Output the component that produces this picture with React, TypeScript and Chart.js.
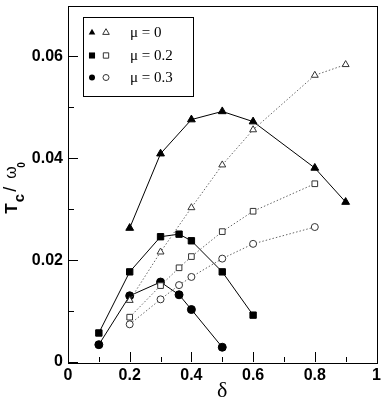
import React, { useEffect, useRef } from "react";
import { Chart, registerables } from "chart.js";

Chart.register(...registerables);

// δ values and Tc/ω0 values
const mu0Delta = [0.2, 0.3, 0.4, 0.5, 0.6, 0.8, 0.9];
const mu0Solid = [0.0263, 0.0409, 0.0476, 0.0492, 0.0472, 0.0381, 0.0314];
const mu0OpenDelta = [0.2, 0.3, 0.4, 0.5, 0.6, 0.8, 0.9];
const mu0Open = [0.0121, 0.0216, 0.0303, 0.0387, 0.0456, 0.0563, 0.0584];

const mu02Delta = [0.1, 0.2, 0.3, 0.36, 0.4, 0.5, 0.6];
const mu02Solid = [0.0057, 0.0177, 0.0246, 0.0251, 0.0238, 0.0177, 0.0092];
const mu02OpenDelta = [0.2, 0.3, 0.36, 0.4, 0.5, 0.6, 0.8];
const mu02Open = [0.0088, 0.015, 0.0185, 0.0207, 0.0256, 0.0296, 0.035];

const mu03Delta = [0.1, 0.2, 0.3, 0.36, 0.4, 0.5];
const mu03Solid = [0.0034, 0.013, 0.0157, 0.0132, 0.0103, 0.0029];
const mu03OpenDelta = [0.2, 0.3, 0.36, 0.4, 0.5, 0.6, 0.8];
const mu03Open = [0.0074, 0.0123, 0.0151, 0.0167, 0.0203, 0.0232, 0.0265];

const xTickValues = [0, 0.2, 0.4, 0.6, 0.8, 1];
const xTickLabels = ["0", "0.2", "0.4", "0.6", "0.8", "1"];
const xMinorValues = [0.1, 0.3, 0.5, 0.7, 0.9];
const yTickValues = [0, 0.02, 0.04, 0.06];
const yTickLabels = ["0", "0.02", "0.04", "0.06"];
const yMinorValues = [0.01, 0.03, 0.05];

const legendLabels = ["\u03bc = 0", "\u03bc = 0.2", "\u03bc = 0.3"];
const legendShapes = ["triangle", "rect", "circle"];

const pts = (xs: number[], ys: number[]) => xs.map((x, i) => ({ x, y: ys[i] }));

function drawMarker(ctx: CanvasRenderingContext2D, shape: string, x: number, y: number, r: number, filled: boolean) {
  ctx.beginPath();
  if (shape === "circle") {
    ctx.arc(x, y, r, 0, Math.PI * 2);
  } else if (shape === "rect") {
    const s = r * Math.SQRT1_2;
    ctx.rect(x - s, y - s, 2 * s, 2 * s);
  } else {
    let rad = 0;
    ctx.moveTo(x + Math.sin(rad) * r, y - Math.cos(rad) * r);
    rad += (2 * Math.PI) / 3;
    ctx.lineTo(x + Math.sin(rad) * r, y - Math.cos(rad) * r);
    rad += (2 * Math.PI) / 3;
    ctx.lineTo(x + Math.sin(rad) * r, y - Math.cos(rad) * r);
    ctx.closePath();
  }
  if (filled) {
    ctx.fillStyle = "#000";
    ctx.fill();
  } else {
    ctx.fillStyle = "#fff";
    ctx.fill();
    ctx.strokeStyle = "#333";
    ctx.lineWidth = 1;
    ctx.stroke();
  }
}

const framePlugin = {
  id: "frame",
  afterDraw(chart: any) {
    const ctx = chart.ctx as CanvasRenderingContext2D;
    const { left, right, top, bottom } = chart.chartArea;
    const xs = chart.scales.x;
    const ys = chart.scales.y;
    ctx.save();
    // box
    ctx.strokeStyle = "#000";
    ctx.lineWidth = 1;
    ctx.strokeRect(Math.round(left) + 0.5, Math.round(top) + 0.5, Math.round(right - left), Math.round(bottom - top));
    // inward ticks
    ctx.beginPath();
    xTickValues.forEach((v) => {
      const px = Math.round(xs.getPixelForValue(v)) + 0.5;
      ctx.moveTo(px, bottom);
      ctx.lineTo(px, bottom - 10);
    });
    xMinorValues.forEach((v) => {
      const px = Math.round(xs.getPixelForValue(v)) + 0.5;
      ctx.moveTo(px, bottom);
      ctx.lineTo(px, bottom - 5);
    });
    yTickValues.forEach((v) => {
      const py = Math.round(ys.getPixelForValue(v)) + 0.5;
      ctx.moveTo(left, py);
      ctx.lineTo(left + 10, py);
    });
    yMinorValues.forEach((v) => {
      const py = Math.round(ys.getPixelForValue(v)) + 0.5;
      ctx.moveTo(left, py);
      ctx.lineTo(left + 6, py);
    });
    ctx.stroke();

    // legend
    const bx = left + 15;
    const by = top + 11;
    ctx.fillStyle = "#fff";
    ctx.fillRect(bx, by, 110, 79);
    ctx.strokeStyle = "#000";
    ctx.strokeRect(Math.round(bx) + 0.5, Math.round(by) + 0.5, 110, 79);
    const rowYs = [27, 50, 72];
    legendLabels.forEach((lab, i) => {
      const yy = top + rowYs[i];
      const shape = legendShapes[i];
      const rf = shape === "rect" ? 4.3 : shape === "triangle" ? 3.8 : 3;
      const ro = shape === "rect" ? 3.8 : shape === "triangle" ? 3.8 : 3;
      drawMarker(ctx, shape, left + 24, yy, rf, true);
      drawMarker(ctx, shape, left + 38, yy, ro, false);
      ctx.fillStyle = "#000";
      ctx.font = '15px "Liberation Serif"';
      ctx.textAlign = "left";
      ctx.textBaseline = "middle";
      ctx.fillText(lab, left + 62, yy + 1);
    });

    // y-axis title: T_c / ω_0
    const cy = (top + bottom) / 2;
    ctx.translate(17, cy + 30);
    ctx.rotate(-Math.PI / 2);
    ctx.textAlign = "left";
    ctx.textBaseline = "alphabetic";
    ctx.fillStyle = "#000";
    ctx.font = 'bold 17px "Liberation Sans"';
    ctx.fillText("T", 0, 0);
    ctx.font = 'bold 15px "Liberation Sans"';
    ctx.fillText("c", 11.5, 7);
    ctx.font = '18px "Liberation Sans"';
    ctx.fillText("/", 22, -1);
    ctx.font = '16px "Liberation Sans"';
    ctx.fillText("\u03c9", 35, -1);
    ctx.font = 'bold 10px "Liberation Sans"';
    ctx.fillText("0", 46, 8);
    ctx.restore();
  },
};

export default function App() {
  const ref = useRef<HTMLCanvasElement>(null);
  useEffect(() => {
    document.body.style.margin = "0";
    const solid = (label: string, data: any, shape: string, r: number) => ({
      label,
      data,
      showLine: true,
      borderColor: "#000",
      borderWidth: 1,
      backgroundColor: "#000",
      pointStyle: shape,
      pointRadius: r,
      pointBackgroundColor: "#000",
      pointBorderColor: "#000",
      pointBorderWidth: 1,
    });
    const open = (label: string, data: any, shape: string, r: number) => ({
      label,
      data,
      showLine: true,
      borderColor: "#666",
      borderWidth: 1,
      borderDash: [1.5, 2],
      backgroundColor: "#fff",
      pointStyle: shape,
      pointRadius: r,
      pointBackgroundColor: "#fff",
      pointBorderColor: "#333",
      pointBorderWidth: 1,
    });
    const chart = new Chart(ref.current as HTMLCanvasElement, {
      type: "scatter",
      data: {
        datasets: [
          open("μ=0 open", pts(mu0OpenDelta, mu0Open), "triangle", 4),
          open("μ=0.2 open", pts(mu02OpenDelta, mu02Open), "rect", 4),
          open("μ=0.3 open", pts(mu03OpenDelta, mu03Open), "circle", 3.5),
          solid("μ=0", pts(mu0Delta, mu0Solid), "triangle", 4.5),
          solid("μ=0.2", pts(mu02Delta, mu02Solid), "rect", 4.5),
          solid("μ=0.3", pts(mu03Delta, mu03Solid), "circle", 4),
        ] as any,
      },
      options: {
        animation: false,
        responsive: false,
        maintainAspectRatio: false,
        layout: { padding: { top: 2, right: 5, left: 0, bottom: 0 } },
        plugins: { legend: { display: false }, tooltip: { enabled: false } },
        scales: {
          x: {
            type: "linear",
            min: 0,
            max: 1,
            grid: { display: false, drawTicks: false },
            border: { display: false },
            afterBuildTicks: (s: any) => {
              s.ticks = xTickValues.map((v) => ({ value: v }));
            },
            afterFit: (s: any) => {
              s.height = 40;
              s.paddingLeft = 0;
              s.paddingRight = 0;
            },
            ticks: {
              padding: 4,
              color: "#000",
              font: { family: '"Liberation Sans"', size: 16, weight: "bold" },
              maxRotation: 0,
              callback: (v: any) => xTickLabels[xTickValues.indexOf(v)] ?? "",
            },
            title: {
              display: true,
              text: "δ",
              color: "#000",
              font: { family: '"Liberation Serif"', size: 22 },
              padding: { top: 0, bottom: -2 },
            },
          },
          y: {
            type: "linear",
            min: 0,
            max: 0.07,
            grid: { display: false, drawTicks: false },
            border: { display: false },
            afterBuildTicks: (s: any) => {
              s.ticks = yTickValues.map((v) => ({ value: v }));
            },
            afterFit: (s: any) => {
              s.width = 68;
              s.paddingTop = 0;
              s.paddingBottom = 0;
            },
            ticks: {
              padding: 5,
              color: "#000",
              font: { family: '"Liberation Sans"', size: 16, weight: "bold" },
              callback: (v: any) => yTickLabels[yTickValues.indexOf(v)] ?? "",
            },
          },
        },
      },
      plugins: [framePlugin],
    });
    return () => chart.destroy();
  }, []);
  return (
    <div style={{ width: 382, height: 402 }}>
      <canvas ref={ref} width={382} height={402} />
    </div>
  );
}
